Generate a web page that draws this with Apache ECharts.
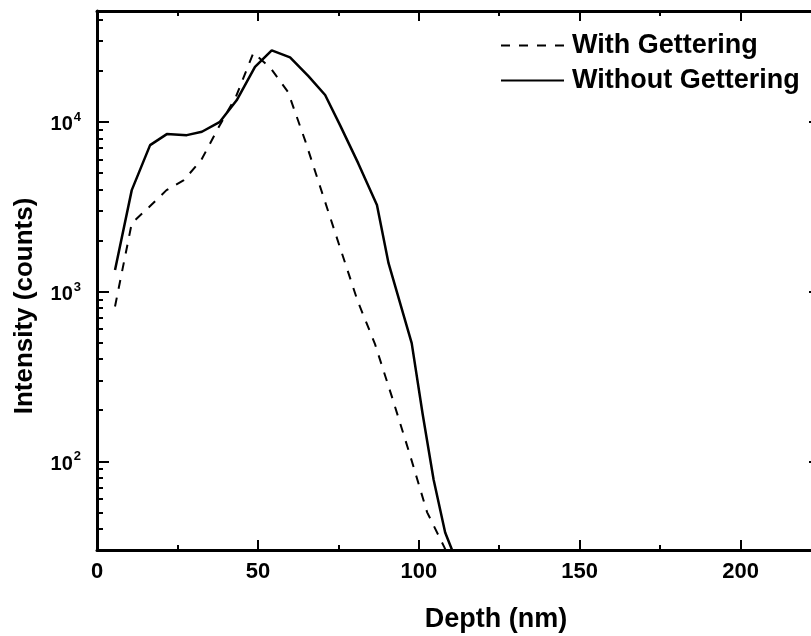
<!DOCTYPE html>
<html>
<head>
<meta charset="utf-8">
<script src="https://cdn.jsdelivr.net/npm/echarts@6/dist/echarts.min.js"></script>
<style>
  html, body { margin: 0; padding: 0; background: #fff; }
  #chart { width: 811px; height: 636px; }
</style>
</head>
<body>
<div id="chart"></div>
<script>
// Depth profiles (depth in nm, intensity in counts)
const depthWith = [5.6, 10.8, 16.2, 21.6, 27.0, 32.4, 37.8, 43.2, 48.6, 54.0, 59.4, 64.8, 70.2, 75.6, 81.0, 86.4, 91.8, 97.2, 102.6, 108.0, 112.0];
const intensityWith = [817, 2525, 3150, 3960, 4540, 5950, 9300, 14100, 25500, 20700, 14950, 7640, 3700, 1800, 880, 490, 235, 110, 50, 31, 20];

const depthWithout = [5.6, 10.8, 16.5, 21.7, 27.9, 32.6, 38.2, 43.4, 49.1, 54.3, 60.0, 65.7, 70.9, 75.6, 81.2, 87.0, 90.6, 97.8, 101.2, 104.6, 108.2, 112.0];
const intensityWithout = [1340, 3960, 7290, 8470, 8350, 8740, 10000, 13400, 21100, 26400, 24000, 18600, 14400, 9500, 5690, 3240, 1470, 497, 190, 78, 38, 25];

const seriesNames = ['With Gettering', 'Without Gettering'];

// Axis ticks
const xMajorTicks = [0, 50, 100, 150, 200];
const xMinorTicks = [25, 75, 125, 175];
const yMajorTicks = [100, 1000, 10000];
const yMinorTicks = [30, 40, 50, 60, 70, 80, 90, 200, 300, 400, 500, 600, 700, 800, 900,
                     2000, 3000, 4000, 5000, 6000, 7000, 8000, 9000, 20000, 30000, 40000];

const X_MIN = 0, X_MAX = 225;
const Y_MIN = 30, Y_MAX = 45000;

const FONT = '"Liberation Sans", Arial, sans-serif';

function pairs(xs, ys) { return xs.map((x, i) => [x, ys[i]]); }

// Frame line (with optional labels) for one side of the x range
function xFrame(position, showLabels) {
  return {
    type: 'value', position: position, min: X_MIN, max: X_MAX,
    axisLine: { show: true, onZero: false, lineStyle: { color: '#000', width: 3 } },
    axisTick: { show: false },
    axisLabel: showLabels ? {
      show: true, customValues: xMajorTicks, margin: 11,
      color: '#000', fontFamily: FONT, fontWeight: 'bold', fontSize: 22
    } : { show: false },
    splitLine: { show: false }
  };
}
// Tick marks pointing into the plot
function xTicks(position, ticks, len) {
  return {
    type: 'value', position: position, min: X_MIN, max: X_MAX,
    axisLine: { show: false, onZero: false },
    axisTick: { show: true, inside: true, length: len, customValues: ticks, lineStyle: { color: '#000', width: 2 } },
    axisLabel: { show: false },
    splitLine: { show: false }
  };
}

function yFrame(position, showLabels) {
  return {
    type: 'log', logBase: 10, position: position, min: Y_MIN, max: Y_MAX,
    axisLine: { show: true, onZero: false, lineStyle: { color: '#000', width: 3 } },
    axisTick: { show: false },
    axisLabel: showLabels ? {
      show: true, customValues: yMajorTicks, margin: 16,
      formatter: function (v) {
        return '{b|10}{s|' + Math.round(Math.log10(v)) + '}';
      },
      rich: {
        b: { fontFamily: FONT, fontWeight: 'bold', fontSize: 20, color: '#000', lineHeight: 22, padding: [6, 0, 0, 0] },
        s: { fontFamily: FONT, fontWeight: 'bold', fontSize: 13, color: '#000', lineHeight: 13, verticalAlign: 'top', padding: [0, 0, 0, 1] }
      }
    } : { show: false },
    splitLine: { show: false }
  };
}
function yTicks(position, ticks, len) {
  return {
    type: 'log', logBase: 10, position: position, min: Y_MIN, max: Y_MAX,
    axisLine: { show: false, onZero: false },
    axisTick: { show: true, inside: true, length: len, customValues: ticks, lineStyle: { color: '#000', width: 2 } },
    axisLabel: { show: false },
    splitLine: { show: false }
  };
}

const chart = echarts.init(document.getElementById('chart'), null, { renderer: 'canvas' });

chart.setOption({
  backgroundColor: '#fff',
  animation: false,
  // the plot frame runs slightly past the right edge of the canvas
  grid: { left: 97, top: 11, width: 724, height: 539, containLabel: false, outerBoundsMode: 'none' },
  xAxis: [
    xFrame('bottom', true),
    xTicks('bottom', xMajorTicks, 10),
    xTicks('bottom', xMinorTicks, 5),
    xFrame('top', false),
    xTicks('top', xMajorTicks, 10),
    xTicks('top', xMinorTicks, 5)
  ],
  yAxis: [
    yFrame('left', true),
    yTicks('left', yMajorTicks, 12),
    yTicks('left', yMinorTicks, 6),
    yFrame('right', false),
    yTicks('right', yMajorTicks, 12),
    yTicks('right', yMinorTicks, 6)
  ],
  legend: {
    orient: 'vertical', left: 495, top: 27,
    itemWidth: 63, itemHeight: 14, itemGap: 8,
    data: seriesNames,
    itemStyle: { color: 'transparent', borderColor: 'transparent', borderWidth: 0 },
    textStyle: { color: '#000', fontFamily: FONT, fontWeight: 'bold', fontSize: 27, lineHeight: 27, padding: [0, 0, 0, 3] }
  },
  series: [
    {
      name: seriesNames[0], type: 'line', xAxisIndex: 0, yAxisIndex: 0,
      data: pairs(depthWith, intensityWith),
      symbol: 'none', smooth: false, clip: true,
      lineStyle: { color: '#000', width: 2, type: [9, 9] },
      itemStyle: { color: '#000' }
    },
    {
      name: seriesNames[1], type: 'line', xAxisIndex: 0, yAxisIndex: 0,
      data: pairs(depthWithout, intensityWithout),
      symbol: 'none', smooth: false, clip: true,
      lineStyle: { color: '#000', width: 2.5, type: 'solid' },
      itemStyle: { color: '#000' }
    }
  ],
  graphic: [
    {
      type: 'text', x: 496, y: 620,
      style: { text: 'Depth (nm)', font: 'bold 27px ' + FONT, fill: '#000', textAlign: 'center', textVerticalAlign: 'middle' }
    },
    {
      type: 'text', x: 25, y: 306, rotation: Math.PI / 2,
      style: { text: 'Intensity (counts)', font: 'bold 26px ' + FONT, fill: '#000', textAlign: 'center', textVerticalAlign: 'middle' }
    }
  ]
});
</script>
</body>
</html>
